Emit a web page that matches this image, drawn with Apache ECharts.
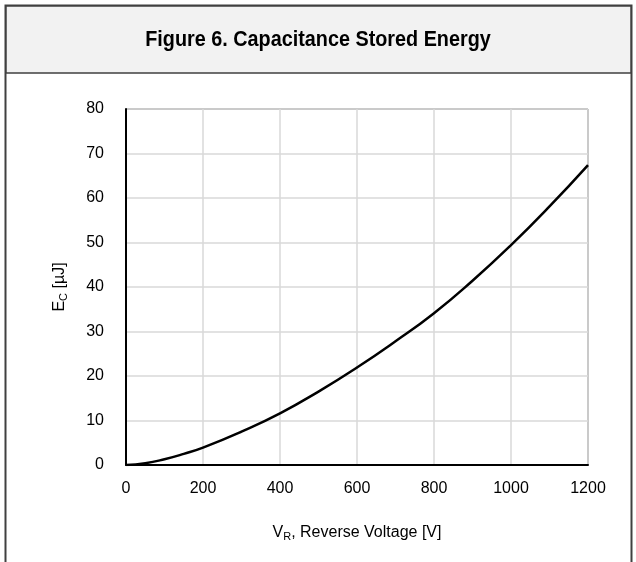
<!DOCTYPE html>
<html>
<head>
<meta charset="utf-8">
<script src="https://cdn.jsdelivr.net/npm/echarts@6/dist/echarts.min.js"></script>
<style>
  html, body { margin: 0; padding: 0; background: #fff; }
  #chart { width: 636px; height: 562px; }
</style>
</head>
<body>
<div id="chart"></div>
<script>
// 反向电压 V_R [V]
var voltage = [0, 50, 100, 150, 200, 300, 400, 500, 600, 700, 800, 900, 1000, 1100, 1200];
// 电容储能 E_C [µJ]
var energy = [0, 0.4, 1.3, 2.5, 3.9, 7.5, 11.6, 16.5, 21.9, 27.8, 34.1, 41.4, 49.4, 58.1, 67.4];

var titleText = 'Figure 6. Capacitance Stored Energy';

var myChart = echarts.init(document.getElementById('chart'));

var seriesData = voltage.map(function (v, i) { return [v, energy[i]]; });

var option = {
    animation: false,
    textStyle: { fontFamily: 'Liberation Sans, Arial, sans-serif' },
    graphic: [
        {
            type: 'rect',
            z: -1,
            shape: { x: 5.5, y: 5.5, width: 626, height: 600 },
            style: { fill: '#fff', stroke: '#404040', lineWidth: 2 }
        },
        {
            type: 'rect',
            z: -1,
            shape: { x: 6, y: 6, width: 625, height: 67 },
            style: { fill: '#f2f2f2', stroke: '#404040', lineWidth: 1.5 }
        },
        {
            // 标题字体略高略窄
            type: 'text',
            x: 318,
            y: 40,
            scaleX: 0.88,
            style: {
                text: titleText,
                fontSize: 22.5,
                fontWeight: 'bold',
                fontFamily: 'Liberation Sans, Arial, sans-serif',
                fill: '#000',
                align: 'center',
                verticalAlign: 'middle'
            }
        }
    ],
    grid: {
        left: 126,
        right: 48,
        top: 109,
        bottom: 97,
        show: true,
        borderColor: '#404040',
        borderWidth: 1
    },
    xAxis: {
        type: 'value',
        min: 0,
        max: 1200,
        interval: 200,
        name: '{n|V}{s|R}{n|, Reverse Voltage [V]}',
        nameLocation: 'middle',
        nameGap: 58,
        nameTextStyle: {
            rich: {
                n: { fontSize: 16, color: '#000' },
                s: { fontSize: 11, color: '#000', verticalAlign: 'bottom', padding: [8, 0, 0, 0] }
            }
        },
        axisLine: { lineStyle: { color: '#000', width: 2 } },
        axisTick: { show: false },
        axisLabel: {
            color: '#000',
            fontSize: 16,
            margin: 16,
            formatter: function (v) { return String(v); }
        },
        splitLine: { show: true, lineStyle: { color: '#d9d9d9', width: 1.5 } }
    },
    yAxis: {
        type: 'value',
        min: 0,
        max: 80,
        interval: 10,
        name: '{n|E}{s|C}{n| [µJ]}',
        nameLocation: 'middle',
        nameGap: 57,
        nameTextStyle: {
            rich: {
                n: { fontSize: 16, color: '#000' },
                s: { fontSize: 11, color: '#000', verticalAlign: 'bottom', padding: [8, 0, 0, 0] }
            }
        },
        axisLine: { show: true, lineStyle: { color: '#000', width: 2 } },
        axisTick: { show: false },
        axisLabel: { color: '#000', fontSize: 16, margin: 22 },
        splitLine: { show: true, lineStyle: { color: '#d9d9d9', width: 1.5 } }
    },
    series: [
        {
            type: 'line',
            smooth: true,
            showSymbol: false,
            lineStyle: { color: '#000', width: 2.5 },
            data: seriesData
        }
    ]
};

myChart.setOption(option);
</script>
</body>
</html>
